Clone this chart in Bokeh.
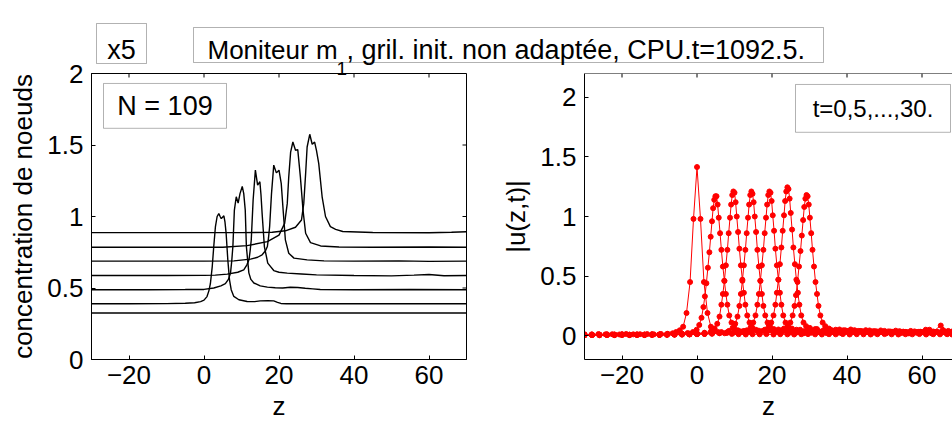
from bokeh.plotting import figure
from bokeh.layouts import row
from bokeh.models import (Range1d, FixedTicker, CustomJSTickFormatter,
                          BoxAnnotation, Label, Span, GridBox)
from bokeh.embed import file_html
from bokeh.resources import INLINE

FONT = "Liberation Sans"
TICK_PX = "26px"

# ---------------- left panel: node concentration curves (offset per time) ----
conc_z0 = [-30, 70]
conc_c0 = [0.325, 0.325]

conc_z1 = [-30, -20, -10, -5, -2.5, -0.9, 0.0, 0.8, 1.3, 1.7, 2.2, 2.6, 3.05, 3.5, 3.95,
           4.3, 4.6, 4.95, 5.3, 5.6, 5.9, 6.35, 6.8, 7.25, 7.95, 9.3, 11.5, 13.5, 15.0, 17.0,
           18.6, 19.6, 20.5, 22.0, 30.0, 45.0, 60.0, 70.0]
conc_c1 = [0.39, 0.39, 0.391, 0.393, 0.397, 0.405, 0.415, 0.44, 0.48, 0.53, 0.65, 0.79, 0.93,
           1.0, 1.02, 1.0, 0.985, 0.995, 1.005, 0.96, 0.883, 0.697, 0.557, 0.488, 0.441, 0.418,
           0.406, 0.405, 0.41, 0.412, 0.41, 0.40, 0.392, 0.39, 0.39, 0.391, 0.39, 0.39]

conc_z2 = [-30, -15, -5, 0, 2.6, 4.5, 5.7, 6.5, 7.07, 7.4, 7.7, 8.1, 8.6, 9.1, 9.6, 10.2, 10.6,
           11.0, 11.3, 11.96, 12.5, 13.3, 15.0, 16.9, 19.0, 21.0, 23.0, 25.0, 27.0, 29.0, 31.0,
           40.0, 55.0, 70.0]
conc_c2 = [0.488, 0.488, 0.489, 0.49, 0.50, 0.515, 0.53, 0.56, 0.604, 0.69, 0.79, 1.045, 1.138,
           1.094, 1.16, 1.21, 1.16, 1.045, 0.79, 0.606, 0.56, 0.535, 0.515, 0.506, 0.502, 0.50,
           0.505, 0.503, 0.498, 0.494, 0.49, 0.488, 0.49, 0.488]

conc_z3 = [-30, -10, 0, 3.0, 6.2, 9.0, 10.6, 11.4, 12.0, 12.3, 12.6, 13.1, 13.7, 14.3, 14.9,
           15.2, 15.5, 16.1, 17.0, 18.6, 20.0, 22.2, 26.0, 30.0, 40.0, 50.0, 56.0, 60.0, 64.0, 70.0]
conc_c3 = [0.587, 0.587, 0.588, 0.59, 0.597, 0.61, 0.627, 0.66, 0.697, 0.76, 0.836, 1.115, 1.324,
           1.22, 1.243, 1.15, 1.02, 0.79, 0.674, 0.622, 0.61, 0.604, 0.598, 0.592, 0.587, 0.585,
           0.59, 0.594, 0.586, 0.587]

conc_z4 = [-30, 0, 8.0, 12.4, 14.3, 15.5, 16.4, 16.9, 17.2, 17.5, 18.0, 18.6, 19.3, 20.0, 20.6,
           21.1, 21.7, 22.6, 24.0, 27.5, 32.0, 40.0, 52.0, 60.0, 70.0]
conc_c4 = [0.688, 0.688, 0.69, 0.702, 0.715, 0.732, 0.76, 0.79, 0.85, 0.929, 1.16, 1.359, 1.305,
           1.324, 1.23, 1.045, 0.836, 0.743, 0.709, 0.697, 0.69, 0.688, 0.69, 0.686, 0.688]

conc_z5 = [-30, 5, 11.5, 16.9, 20.0, 21.5, 22.2, 22.6, 23.1, 23.7, 24.4, 25.0, 25.7, 26.4, 27.1,
           28.4, 31.1, 36.0, 45.0, 60.0, 70.0]
conc_c5 = [0.785, 0.785, 0.796, 0.824, 0.87, 0.952, 1.09, 1.277, 1.45, 1.521, 1.463, 1.468, 1.277,
           1.045, 0.883, 0.817, 0.794, 0.787, 0.785, 0.787, 0.785]

conc_z6 = [-30, 10, 18.2, 21.7, 24.4, 26.0, 26.6, 27.1, 27.5, 28.2, 28.85, 29.5, 30.0, 30.6, 31.5,
           32.4, 33.7, 35.1, 37.0, 45.0, 60.0, 66.0, 70.0]
conc_c6 = [0.887, 0.887, 0.89, 0.90, 0.925, 0.976, 1.09, 1.30, 1.486, 1.575, 1.505, 1.52, 1.46,
           1.37, 1.138, 1.0, 0.929, 0.91, 0.895, 0.888, 0.886, 0.89, 0.893]

# ---------------- right panel: |u(z,t)| on the grid nodes, t = 0,5,...,30 -------
z_t0 = [-30.0, -28.1, -26.3, -24.4, -22.6, -20.7, -18.9, -17.0, -15.2, -13.3, -11.5, -9.6, -7.8,
        -6.5, -5.6, -4.6, -3.7, -2.8, -1.85, -0.93, 0.0, 0.93, 1.85, 2.8, 3.7, 4.6, 5.6, 7.4, 9.3,
        11.1, 13.0, 14.8, 16.7, 18.5, 20.4, 22.2, 24.1, 25.9, 27.8, 29.6, 31.5, 33.3, 35.2, 37.0,
        38.9, 40.7, 42.6, 44.4, 46.3, 48.1, 50.0, 51.9, 53.7, 55.6, 57.4, 59.3, 61.1, 63.0, 64.8,
        66.7, 68.0]
u_t0 = [0.012, 0.010, 0.013, 0.011, 0.012, 0.010, 0.014, 0.011, 0.012, 0.013, 0.011, 0.014, 0.016,
        0.02, 0.03, 0.045, 0.075, 0.19, 0.45, 0.98, 1.415, 0.98, 0.45, 0.19, 0.075, 0.045, 0.03,
        0.02, 0.015, 0.012, 0.01, 0.012, 0.011, 0.013, 0.01, 0.012, 0.011, 0.01, 0.012, 0.013,
        0.011, 0.01, 0.012, 0.011, 0.013, 0.01, 0.012, 0.011, 0.01, 0.012, 0.013, 0.011, 0.01,
        0.012, 0.011, 0.013, 0.01, 0.012, 0.011, 0.012, 0.01]

z_t5 = [-30, -28, -26, -24, -22, -20, -18, -16, -14, -12, -10, -8, -6, -4, -2.5,
        -1.1, -0.1, 0.6, 1.2, 1.7, 2.1, 2.5, 2.9, 3.3, 3.65, 4.0, 4.3, 4.6, 4.9, 5.2, 5.5, 5.8,
        6.15, 6.5, 6.9, 7.3, 7.7, 8.1, 8.6, 9.2, 9.9, 10.9,
        12.5, 14.5, 16.5, 18.5, 20.5, 22.5, 24.5, 26.5, 28.5, 30.5, 32.5, 34.5, 36.5, 38.5, 40.5,
        42.5, 44.5, 46.5, 48.5, 50.5, 52.5, 54.5, 56.5, 58.5, 60.5, 62.5, 64.5, 66.5, 68.0]
u_t5 = [0.008, 0.01, 0.009, 0.011, 0.01, 0.012, 0.009, 0.011, 0.01, 0.012, 0.011, 0.013, 0.015,
        0.018, 0.022,
        0.03, 0.05, 0.09, 0.15, 0.24, 0.33, 0.44, 0.57, 0.70, 0.83, 0.96, 1.07, 1.14, 1.17, 1.17,
        1.10, 0.99, 0.86, 0.72, 0.58, 0.46, 0.35, 0.26, 0.17, 0.11, 0.07, 0.045,
        0.04, 0.035, 0.03, 0.028, 0.025, 0.03, 0.022, 0.026, 0.02, 0.025, 0.03, 0.022, 0.027,
        0.02, 0.025, 0.03, 0.022, 0.018, 0.025, 0.02, 0.028, 0.022, 0.019, 0.025, 0.03, 0.02,
        0.024, 0.02, 0.022]

z_t10 = [-30, -28, -26, -24, -22, -20, -18, -16, -14, -12, -10, -8, -6, -4, -2, 0, 2,
         3.7, 4.7, 5.4, 6.0, 6.5, 6.9, 7.3, 7.7, 8.1, 8.45, 8.8, 9.1, 9.4, 9.7, 10.0, 10.3, 10.6,
         10.95, 11.3, 11.7, 12.1, 12.5, 12.9, 13.4, 14.0, 14.7, 15.7,
         17.5, 19.5, 21.5, 23.5, 25.5, 27.5, 29.5, 31.5, 33.5, 35.5, 37.5, 39.5, 41.5, 43.5, 45.5,
         47.5, 49.5, 51.5, 53.5, 55.5, 57.5, 59.5, 61.5, 63.5, 65.5, 67.5]
u_t10 = [0.006, 0.008, 0.007, 0.009, 0.008, 0.01, 0.007, 0.009, 0.008, 0.01, 0.009, 0.011, 0.012,
         0.014, 0.016, 0.02, 0.025,
         0.035, 0.06, 0.1, 0.16, 0.26, 0.35, 0.46, 0.59, 0.72, 0.86, 0.99, 1.10, 1.18, 1.21, 1.20,
         1.12, 1.00, 0.87, 0.73, 0.59, 0.47, 0.36, 0.26, 0.17, 0.11, 0.07, 0.05,
         0.04, 0.045, 0.035, 0.04, 0.03, 0.038, 0.032, 0.028, 0.035, 0.03, 0.025, 0.032, 0.028,
         0.035, 0.03, 0.025, 0.03, 0.028, 0.022, 0.03, 0.026, 0.032, 0.025, 0.03, 0.028, 0.024]

z_t15 = [-30, -28, -26, -24, -22, -20, -18, -16, -14, -12, -10, -8, -6, -4, -2, 0, 2, 4, 6.5,
         8.5, 9.5, 10.2, 10.8, 11.3, 11.7, 12.1, 12.5, 12.9, 13.25, 13.6, 13.9, 14.2, 14.5, 14.8,
         15.1, 15.4, 15.75, 16.1, 16.5, 16.9, 17.3, 17.7, 18.2, 18.8, 19.5, 20.5,
         22.5, 24.5, 26.5, 28.5, 30.5, 32.5, 34.5, 36.5, 38.5, 40.5, 42.5, 44.5, 46.5, 48.5, 50.5,
         52.5, 54.5, 56.5, 58.5, 60.5, 62.5, 64.5, 66.5, 68.0]
u_t15 = [0.005, 0.007, 0.006, 0.008, 0.007, 0.009, 0.006, 0.008, 0.007, 0.009, 0.008, 0.01, 0.011,
         0.012, 0.014, 0.016, 0.02, 0.025, 0.03,
         0.04, 0.065, 0.1, 0.16, 0.25, 0.35, 0.46, 0.59, 0.72, 0.86, 0.99, 1.10, 1.18, 1.21, 1.19,
         1.12, 1.00, 0.87, 0.72, 0.58, 0.46, 0.35, 0.25, 0.17, 0.11, 0.075, 0.055,
         0.045, 0.04, 0.05, 0.038, 0.045, 0.035, 0.04, 0.032, 0.038, 0.03, 0.035, 0.028, 0.033,
         0.03, 0.026, 0.032, 0.028, 0.024, 0.03, 0.026, 0.032, 0.028, 0.03, 0.025]

z_t20 = [-30, -28, -26, -24, -22, -20, -18, -16, -14, -12, -10, -8, -6, -4, -2, 0, 2, 4, 6, 8, 10,
         11.5,
         13.3, 14.3, 15.0, 15.6, 16.1, 16.5, 16.9, 17.3, 17.7, 18.05, 18.4, 18.7, 19.0, 19.3, 19.6,
         19.9, 20.2, 20.55, 20.9, 21.3, 21.7, 22.1, 22.5, 23.0, 23.6, 24.3, 25.3,
         27.5, 29.5, 31.5, 33.5, 35.5, 37.5, 39.5, 41.5, 43.5, 45.5, 47.5, 49.5, 51.5, 53.5, 55.5,
         57.5, 59.5, 61.5, 63.5, 65.5, 67.5]
u_t20 = [0.005, 0.006, 0.005, 0.007, 0.006, 0.008, 0.006, 0.007, 0.006, 0.008, 0.007, 0.009, 0.01,
         0.011, 0.012, 0.014, 0.016, 0.02, 0.024, 0.028, 0.032, 0.036,
         0.045, 0.07, 0.11, 0.17, 0.26, 0.35, 0.46, 0.59, 0.72, 0.86, 0.99, 1.10, 1.18, 1.21, 1.20,
         1.13, 1.01, 0.88, 0.73, 0.59, 0.47, 0.36, 0.26, 0.17, 0.11, 0.075, 0.06,
         0.05, 0.045, 0.055, 0.04, 0.048, 0.038, 0.045, 0.035, 0.04, 0.032, 0.038, 0.03, 0.035,
         0.028, 0.032, 0.027, 0.033, 0.028, 0.03, 0.045, 0.03]

z_t25 = [-30, -28, -26, -24, -22, -20, -18, -16, -14, -12, -10, -8, -6, -4, -2, 0, 2, 4, 6, 8, 10,
         12, 14, 16.5,
         18.1, 19.1, 19.8, 20.4, 20.9, 21.3, 21.7, 22.1, 22.5, 22.85, 23.2, 23.5, 23.8, 24.1, 24.4,
         24.7, 25.0, 25.35, 25.7, 26.1, 26.5, 26.9, 27.3, 27.8, 28.4, 29.1, 30.1,
         32.0, 34.0, 36.0, 38.0, 40.0, 42.0, 44.0, 46.0, 48.0, 50.0, 52.0, 54.0, 56.0, 58.0, 60.0,
         62.0, 64.0, 66.0, 68.0]
u_t25 = [0.004, 0.006, 0.005, 0.006, 0.005, 0.007, 0.005, 0.007, 0.006, 0.007, 0.006, 0.008, 0.009,
         0.01, 0.011, 0.013, 0.015, 0.018, 0.022, 0.026, 0.03, 0.034, 0.038, 0.042,
         0.05, 0.075, 0.11, 0.17, 0.26, 0.36, 0.47, 0.60, 0.74, 0.88, 1.01, 1.13, 1.21, 1.245, 1.23,
         1.15, 1.03, 0.89, 0.74, 0.60, 0.47, 0.36, 0.26, 0.17, 0.11, 0.08, 0.065,
         0.055, 0.05, 0.045, 0.052, 0.04, 0.046, 0.038, 0.044, 0.035, 0.04, 0.033, 0.038, 0.03,
         0.036, 0.03, 0.05, 0.032, 0.035, 0.03]

z_t30 = [-30, -28, -26, -24, -22, -20, -18, -16, -14, -12, -10, -8, -6, -4, -2, 0, 2, 4, 6, 8, 10,
         12, 14, 16, 18, 20, 21.7,
         23.2, 24.2, 24.9, 25.5, 26.0, 26.4, 26.8, 27.2, 27.6, 27.95, 28.3, 28.6, 28.9, 29.2, 29.5,
         29.8, 30.1, 30.45, 30.8, 31.2, 31.6, 32.0, 32.4, 32.9, 33.5, 34.2, 35.2,
         37.0, 39.0, 41.0, 43.0, 45.0, 47.0, 49.0, 51.0, 53.0, 55.0, 57.0, 59.0, 61.0, 63.0, 65.0,
         67.0, 68.0]
u_t30 = [0.004, 0.005, 0.004, 0.006, 0.005, 0.006, 0.005, 0.006, 0.005, 0.007, 0.006, 0.007, 0.008,
         0.009, 0.01, 0.012, 0.014, 0.016, 0.02, 0.024, 0.028, 0.032, 0.036, 0.04, 0.044, 0.048,
         0.052,
         0.06, 0.08, 0.11, 0.17, 0.25, 0.34, 0.45, 0.58, 0.71, 0.84, 0.97, 1.08, 1.15, 1.18, 1.17,
         1.10, 0.99, 0.86, 0.72, 0.58, 0.45, 0.35, 0.25, 0.17, 0.11, 0.08, 0.06,
         0.05, 0.045, 0.052, 0.04, 0.046, 0.038, 0.044, 0.036, 0.042, 0.034, 0.04, 0.032, 0.05,
         0.035, 0.085, 0.04, 0.035]

x_ticks = [-20, 0, 20, 40, 60]
y_ticks = [0, 0.5, 1, 1.5, 2]

conc_curves = [(conc_z0, conc_c0), (conc_z1, conc_c1), (conc_z2, conc_c2), (conc_z3, conc_c3),
               (conc_z4, conc_c4), (conc_z5, conc_c5), (conc_z6, conc_c6)]
u_curves = [(z_t0, u_t0), (z_t5, u_t5), (z_t10, u_t10), (z_t15, u_t15), (z_t20, u_t20),
            (z_t25, u_t25), (z_t30, u_t30)]
for a, b in conc_curves + u_curves:
    assert len(a) == len(b), (len(a), len(b))

# ---------------- layout (pixels) ----------------
W, H = 952, 423
FRAME_TOP, FRAME_BOTTOM = 73, 360
W1 = 492                      # width of left figure canvas
F1_LEFT, F1_RIGHT = 91, 466   # left panel frame
F2_LEFT, F2_RIGHT = 584, 952  # right panel frame (cut by the window edge)
TICK_LEN = 4

X1 = (-30, 70)
Y1 = (0, 2)
X2 = (-30, -30 + (F2_RIGHT - F2_LEFT) * (X1[1] - X1[0]) / (F1_RIGHT - F1_LEFT))
Y2 = (-0.2, 2.2)

TICK_FMT = "return tick < 0 ? '\\u2212' + (-tick).toString() : tick.toString();"


def style_axis(ax, ticks):
    ax.ticker = FixedTicker(ticks=ticks)
    ax.formatter = CustomJSTickFormatter(code=TICK_FMT)
    ax.axis_line_color = "black"
    ax.axis_line_width = 1
    ax.major_tick_in = TICK_LEN
    ax.major_tick_out = 0
    ax.major_tick_line_color = "black"
    ax.minor_tick_line_color = None
    ax.major_label_text_font = FONT
    ax.major_label_text_color = "black"
    ax.major_label_text_font_size = TICK_PX
    ax.major_label_standoff = 8
    ax.axis_label_text_font = FONT
    ax.axis_label_text_font_size = TICK_PX
    ax.axis_label_text_font_style = "normal"
    ax.axis_label_text_color = "black"


def make_panel(width, xr, yr, left_border, right_border):
    p = figure(width=width, height=H, x_range=Range1d(*xr), y_range=Range1d(*yr),
               output_backend="svg", toolbar_location=None,
               min_border_left=left_border, min_border_right=right_border,
               min_border_top=FRAME_TOP, min_border_bottom=H - FRAME_BOTTOM,
               outline_line_color=None, background_fill_color="white",
               border_fill_color="white")
    p.grid.visible = False
    style_axis(p.xaxis[0], x_ticks)
    style_axis(p.yaxis[0], y_ticks)
    p.xaxis[0].major_label_standoff = 6
    p.xaxis[0].axis_label = "z"
    p.xaxis[0].axis_label_standoff = 4
    return p


def to_data(px, py, xr, yr, fl, fr):
    """page pixel -> data coords of a panel (used to place boxes/text inside it)"""
    x = xr[0] + (px - fl) * (xr[1] - xr[0]) / (fr - fl)
    y = yr[0] + (FRAME_BOTTOM - py) * (yr[1] - yr[0]) / (FRAME_BOTTOM - FRAME_TOP)
    return x, y


def box(p, xr, yr, fl, fr, left, right, top, bottom):
    x0, y0 = to_data(left, bottom, xr, yr, fl, fr)
    x1, y1 = to_data(right, top, xr, yr, fl, fr)
    p.add_layout(BoxAnnotation(left=x0, right=x1, bottom=y0, top=y1, fill_color=None,
                               line_color="black", line_width=1))


def text(p, xr, yr, fl, fr, px, py, s, size, align="left", baseline="alphabetic"):
    x, y = to_data(px, py, xr, yr, fl, fr)
    p.add_layout(Label(x=x, y=y, text=s, text_align=align, text_baseline=baseline,
                       text_font=FONT, text_font_size=size, text_color="black"))


# ---------------- left panel ----------------
p1 = make_panel(W1, X1, Y1, F1_LEFT, W1 - F1_RIGHT)
p1.outline_line_color = "black"
p1.yaxis[0].axis_label = "concentration de noeuds"
p1.yaxis[0].axis_label_standoff = 6
dy1 = TICK_LEN * (Y1[1] - Y1[0]) / (FRAME_BOTTOM - FRAME_TOP)
dx1 = TICK_LEN * (X1[1] - X1[0]) / (F1_RIGHT - F1_LEFT)
p1.segment(x0=x_ticks, x1=x_ticks, y0=[Y1[1]] * len(x_ticks), y1=[Y1[1] - dy1] * len(x_ticks),
           line_color="black", line_width=1)
p1.segment(x0=[X1[1]] * len(y_ticks), x1=[X1[1] - dx1] * len(y_ticks), y0=y_ticks, y1=y_ticks,
           line_color="black", line_width=1)
for zz, cc in conc_curves:
    p1.line(zz, cc, line_color="black", line_width=1.4)
L1 = (p1, X1, Y1, F1_LEFT, F1_RIGHT)
box(*L1, 103, 226, 83, 128)
text(*L1, 164.5, 106, "N = 109", "27px", align="center", baseline="middle")

# ---------------- right panel ----------------
p2 = make_panel(W - W1, X2, Y2, F2_LEFT - W1, 0)
p2.yaxis[0].axis_label = "|u(z,t)|"
p2.yaxis[0].axis_label_standoff = 6
p2.add_layout(Span(location=Y2[1], dimension="width", line_color="black", line_width=1))
dy2 = TICK_LEN * (Y2[1] - Y2[0]) / (FRAME_BOTTOM - FRAME_TOP)
p2.segment(x0=x_ticks, x1=x_ticks, y0=[Y2[1]] * len(x_ticks), y1=[Y2[1] - dy2] * len(x_ticks),
           line_color="black", line_width=1)
for zz, uu in u_curves:
    p2.line(zz, uu, line_color="#ff0000", line_width=1)
    p2.scatter(zz, uu, size=5, color="#ff0000")
L2 = (p2, X2, Y2, F2_LEFT, F2_RIGHT)
box(*L2, 795, 950, 84, 132)
text(*L2, 872.5, 108, "t=0,5,...,30.", "24px", align="center", baseline="middle")

# ---------------- transparent full-page overlay for the header boxes ----------------
ov = figure(width=W, height=H, x_range=Range1d(0, W), y_range=Range1d(H, 0),
            x_axis_type=None, y_axis_type=None, output_backend="svg",
            toolbar_location=None, min_border=0, min_border_left=0, min_border_right=0,
            min_border_top=0, min_border_bottom=0, outline_line_color=None,
            background_fill_color=None, border_fill_color=None)
ov.grid.visible = False


def ov_box(left, right, top, bottom):
    ov.add_layout(BoxAnnotation(left=left, right=right, top=top, bottom=bottom,
                                fill_color=None, line_color="black", line_width=1))


def ov_text(px, py, s, size, align="left"):
    ov.add_layout(Label(x=px, y=py, text=s, text_align=align, text_baseline="alphabetic",
                        text_font=FONT, text_font_size=size, text_color="black"))


ov_box(96, 146, 23, 63)
ov_text(121, 49, "x5", "27px", align="center")
ov_box(193, 823, 27, 62)
ov_text(207, 49, "Moniteur m", "26px")
ov_text(336, 68, "1", "19px")
ov_text(346, 49, ", gril. init. non adaptée, CPU.t=1092.5.", "27px")

panels = row(p1, p2, spacing=0)
layout = GridBox(children=[(panels, 0, 0), (ov, 0, 0)])
open("out.html", "w").write(file_html(layout, INLINE, "Moniteur"))
